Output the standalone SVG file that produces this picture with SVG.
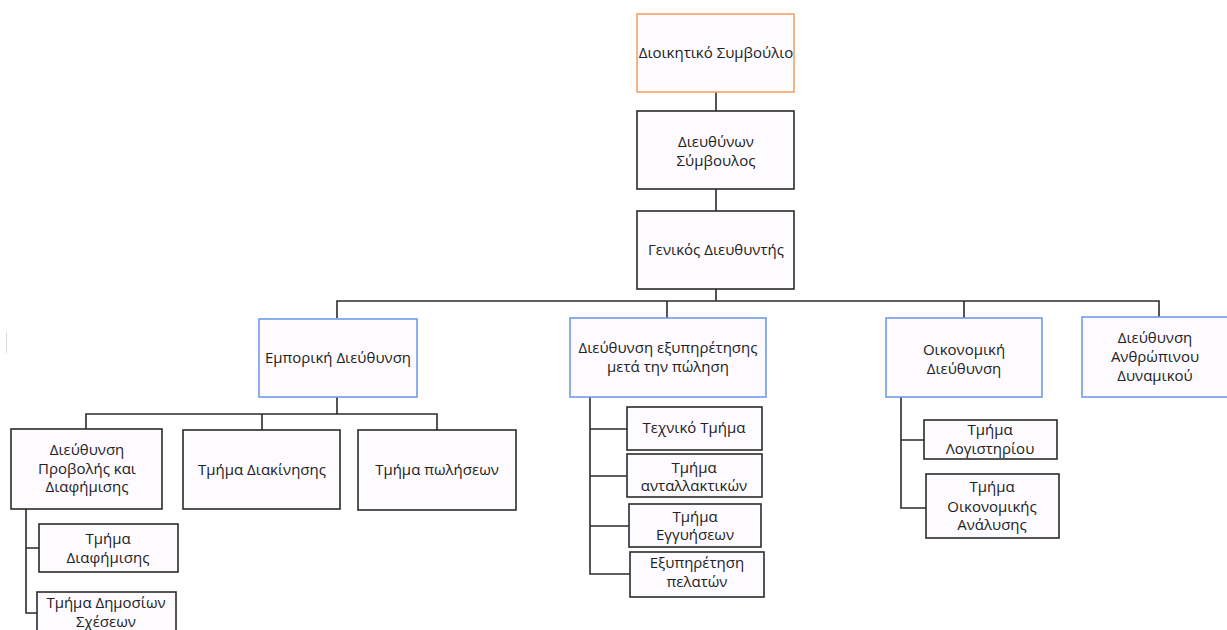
<svg xmlns="http://www.w3.org/2000/svg" width="1227" height="630" viewBox="0 0 1227 630">
<style>
.box{fill:#fdfbff;stroke:#2b2b2b;stroke-width:1.6}
.orange{stroke:#f5a26a}
.blue{stroke:#6f9be8}
.conn{fill:none;stroke:#2b2b2b;stroke-width:1.6}
text{font-family:"Open Sans","Noto Sans","DejaVu Sans",sans-serif;font-size:15px;fill:#222;text-anchor:middle}
</style>
<rect width="1227" height="630" fill="#ffffff"/>
<line x1="6.5" y1="332" x2="6.5" y2="353" stroke="#dddddd" stroke-width="1"/>
<g id="connectors">
<path class="conn" d="M716 92V111M716 189V211M716 289V301"/>
<path class="conn" d="M337 318V301H1159V317M667 301V318M964 301V318"/>
<path class="conn" d="M337 397V414M86 429V414H437V430M262 414V430"/>
<path class="conn" d="M26 509V613H37M26 548H39"/>
<path class="conn" d="M590 397V574H630M590 429H627M590 476H627M590 526H629"/>
<path class="conn" d="M901 397V508H926M901 440H924"/>
</g>
<g id="n-board"><rect class="box orange" x="637" y="14" width="157" height="78"/><text x="716" y="58">Διοικητικό Συμβούλιο</text></g>
<g id="n-ceo"><rect class="box" x="637" y="111" width="157" height="78"/><text x="716" y="147">Διευθύνων</text><text x="716" y="166">Σύμβουλος</text></g>
<g id="n-gm"><rect class="box" x="637" y="211" width="157" height="78"/><text x="716" y="255">Γενικός Διευθυντής</text></g>
<g id="n-commercial"><rect class="box blue" x="259" y="319" width="158" height="78"/><text x="338" y="363">Εμπορική Διεύθυνση</text></g>
<g id="n-aftersales"><rect class="box blue" x="570" y="318" width="196" height="79"/><text x="668" y="353">Διεύθυνση εξυπηρέτησης</text><text x="668" y="372">μετά την πώληση</text></g>
<g id="n-finance"><rect class="box blue" x="886" y="318" width="156" height="79"/><text x="964" y="355">Οικονομική</text><text x="964" y="374">Διεύθυνση</text></g>
<g id="n-hr"><rect class="box blue" x="1082" y="317" width="152" height="80"/><text x="1155" y="343">Διεύθυνση</text><text x="1155" y="362">Ανθρώπινου</text><text x="1155" y="381">Δυναμικού</text></g>
<g id="n-promo"><rect class="box" x="11" y="429" width="151" height="80"/><text x="87" y="455">Διεύθυνση</text><text x="87" y="474">Προβολής και</text><text x="87" y="492">Διαφήμισης</text></g>
<g id="n-logistics"><rect class="box" x="183" y="430" width="157" height="79"/><text x="262" y="475">Τμήμα Διακίνησης</text></g>
<g id="n-sales"><rect class="box" x="358" y="430" width="158" height="80"/><text x="437" y="475">Τμήμα πωλήσεων</text></g>
<g id="n-ads"><rect class="box" x="39" y="524" width="139" height="48"/><text x="108" y="544">Τμήμα</text><text x="108" y="563">Διαφήμισης</text></g>
<g id="n-pr"><rect class="box" x="37" y="592" width="139" height="50"/><text x="106" y="608">Τμήμα Δημοσίων</text><text x="106" y="627">Σχέσεων</text></g>
<g id="n-tech"><rect class="box" x="627" y="407" width="135" height="43"/><text x="694" y="433">Τεχνικό Τμήμα</text></g>
<g id="n-parts"><rect class="box" x="627" y="454" width="135" height="43"/><text x="694" y="473">Τμήμα</text><text x="694" y="491">ανταλλακτικών</text></g>
<g id="n-warranty"><rect class="box" x="629" y="504" width="132" height="43"/><text x="695" y="522">Τμήμα</text><text x="695" y="540">Εγγυήσεων</text></g>
<g id="n-service"><rect class="box" x="630" y="552" width="134" height="45"/><text x="697" y="568">Εξυπηρέτηση</text><text x="697" y="587">πελατών</text></g>
<g id="n-accounting"><rect class="box" x="924" y="420" width="133" height="39"/><text x="990" y="435">Τμήμα</text><text x="990" y="454">Λογιστηρίου</text></g>
<g id="n-analysis"><rect class="box" x="926" y="474" width="133" height="64"/><text x="992" y="492">Τμήμα</text><text x="992" y="512">Οικονομικής</text><text x="992" y="530">Ανάλυσης</text></g>
</svg>
